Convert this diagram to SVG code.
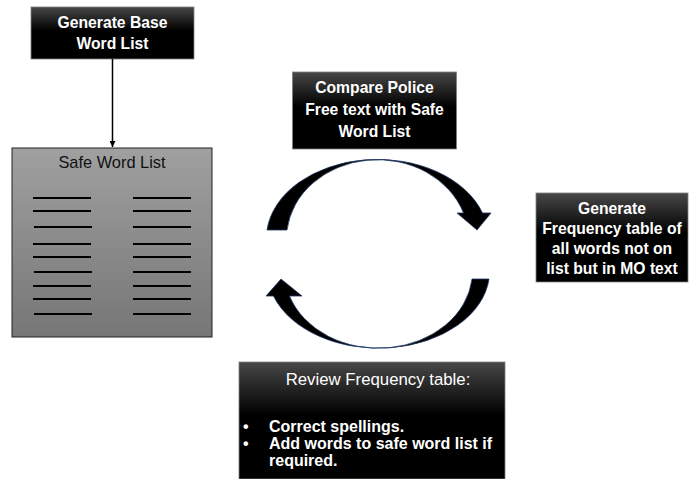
<svg xmlns="http://www.w3.org/2000/svg" width="690" height="479" viewBox="0 0 690 479">
  <defs>
    <linearGradient id="darkFill" x1="0" y1="0" x2="0" y2="1">
      <stop offset="0" stop-color="#484848"/>
      <stop offset="0.45" stop-color="#000000"/>
      <stop offset="1" stop-color="#000000"/>
    </linearGradient>
    <linearGradient id="greyFill" x1="0" y1="0" x2="0" y2="1">
      <stop offset="0" stop-color="#a0a0a0"/>
      <stop offset="1" stop-color="#767676"/>
    </linearGradient>
    <marker id="head" viewBox="0 0 10 10" refX="10" refY="5" markerWidth="6" markerHeight="6" markerUnits="userSpaceOnUse" orient="auto">
      <path d="M0,0 L10,5 L0,10 Z" fill="#000"/>
    </marker>
  </defs>
  <style>
    .box { fill: url(#darkFill); stroke: #7f7f7f; stroke-width: 0.8; }
    .lbl { font-family: "Liberation Sans", Arial, sans-serif; font-size: 15.7px; font-weight: bold; fill: #ffffff; text-anchor: middle; }
    .rule { stroke: #000; stroke-width: 2; }
    .cycle { fill: #000; stroke: #1f3864; stroke-width: 0.8; stroke-linejoin: miter; }
  </style>

  <rect width="690" height="479" fill="#ffffff"/>

  <!-- Generate Base Word List -->
  <g id="generate-base">
    <rect class="box" x="31" y="7" width="163" height="52"/>
    <text class="lbl" x="112.5" y="28">Generate Base</text>
    <text class="lbl" x="112.5" y="49">Word List</text>
  </g>

  <!-- Safe Word List -->
  <g id="safe-word-list">
    <rect x="12" y="148" width="200" height="189" fill="url(#greyFill)" stroke="#222" stroke-width="1"/>
    <text x="112" y="168" font-family="'Liberation Sans', Arial, sans-serif" font-size="16.4" fill="#111" text-anchor="middle">Safe Word List</text>
    <g class="rule">
      <line x1="33" y1="198" x2="91" y2="198"/><line x1="133" y1="198" x2="191" y2="198"/>
      <line x1="33" y1="211" x2="91" y2="211"/><line x1="133" y1="211" x2="191" y2="211"/>
      <line x1="34" y1="227" x2="92" y2="227"/><line x1="133" y1="227" x2="191" y2="227"/>
      <line x1="33" y1="244" x2="91" y2="244"/><line x1="133" y1="244" x2="191" y2="244"/>
      <line x1="33" y1="257" x2="91" y2="257"/><line x1="133" y1="257" x2="191" y2="257"/>
      <line x1="34" y1="272" x2="92" y2="272"/><line x1="133" y1="272" x2="191" y2="272"/>
      <line x1="33" y1="286" x2="91" y2="286"/><line x1="133" y1="286" x2="191" y2="286"/>
      <line x1="33" y1="299" x2="91" y2="299"/><line x1="133" y1="299" x2="191" y2="299"/>
      <line x1="34" y1="314" x2="92" y2="314"/><line x1="133" y1="314" x2="191" y2="314"/>
    </g>
  </g>

  <!-- Compare Police Free text with Safe Word List -->
  <g id="compare">
    <rect class="box" x="292.5" y="72" width="164" height="77"/>
    <text class="lbl" x="374.5" y="93">Compare Police</text>
    <text class="lbl" x="374.5" y="115">Free text with Safe</text>
    <text class="lbl" x="374.5" y="137">Word List</text>
  </g>

  <!-- Generate Frequency table -->
  <g id="frequency">
    <rect class="box" x="536" y="193" width="152" height="89"/>
    <text class="lbl" x="612" y="214">Generate</text>
    <text class="lbl" x="612" y="234">Frequency table of</text>
    <text class="lbl" x="612" y="254">all words not on</text>
    <text class="lbl" x="612" y="274">list but in MO text</text>
  </g>

  <!-- Review Frequency table -->
  <g id="review">
    <rect class="box" x="239" y="362" width="266" height="117"/>
    <text x="378" y="385" font-family="'Liberation Sans', Arial, sans-serif" font-size="16.8" fill="#fff" text-anchor="middle">Review Frequency table:</text>
    <g font-family="'Liberation Sans', Arial, sans-serif" font-size="16" font-weight="bold" fill="#fff">
      <text x="243" y="432">•</text>
      <text x="269" y="432">Correct spellings.</text>
      <text x="243" y="449">•</text>
      <text x="269" y="449">Add words to safe word list if</text>
      <text x="269" y="466">required.</text>
    </g>
  </g>

  <!-- Connectors -->
  <g id="connectors">
    <line x1="112.5" y1="59" x2="112.5" y2="147" stroke="#000" stroke-width="1.5" marker-end="url(#head)"/>
    <path class="cycle" d="M267,230 A111,79 0 0 1 482.5,213 L491,213 L477,230 L457,213 L463.5,213 A91,79 0 0 0 287,230 Z"/>
    <path class="cycle" d="M472,279 L489,279 A111,77 0 0 1 273.5,296 L266,296 L281,279 L302,296 L289.5,296 A94,77 0 0 0 472,279 Z"/>
  </g>
</svg>
